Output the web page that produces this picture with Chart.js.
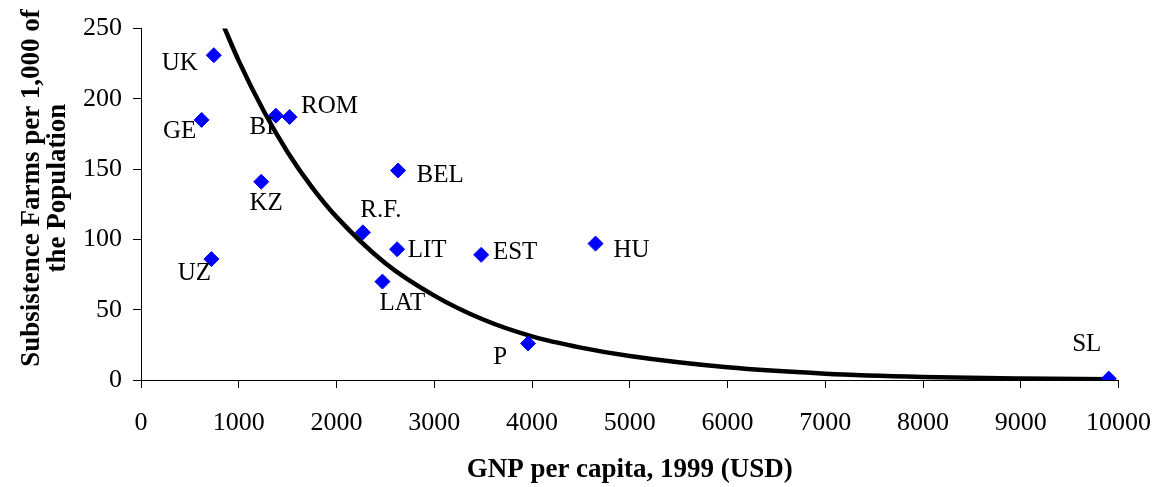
<!DOCTYPE html>
<html>
<head>
<meta charset="utf-8">
<script src="https://cdn.jsdelivr.net/npm/chart.js@4/dist/chart.umd.min.js"></script>
<style>
  body { margin: 0; background: #fff; }
</style>
</head>
<body>
<canvas id="chart" width="1171" height="487"></canvas>
<script>
// Countries and their values
const countries = ["UK", "GE", "BI", "ROM", "KZ", "BEL", "R.F.", "LIT", "EST", "HU", "UZ", "LAT", "P", "SL"];
const gnp = [745, 620, 1380, 1520, 1230, 2630, 2270, 2620, 3480, 4650, 720, 2470, 3960, 9900];
const farms = [231, 185, 188, 187, 141, 149, 105, 93, 89, 97, 86, 70, 26, 1];

// Trend curve
const trendX = [700, 850, 1000, 1250, 1500, 1750, 2000, 2500, 3000, 3500, 4000, 4500, 5000, 6000, 7000, 8000, 9000, 9900];
const trendY = [275, 251, 227, 192, 162, 137, 116, 83, 60, 43, 31, 23, 17, 9, 4.5, 2.2, 1.1, 0.6];

const xTicks = [0, 1000, 2000, 3000, 4000, 5000, 6000, 7000, 8000, 9000, 10000];
const yTicks = [0, 50, 100, 150, 200, 250];

const yTitle = ["Subsistence Farms per 1,000 of", "the Population"];

// where each label sits relative to its point
const labelOffsets = [[-34, 8], [-22, 12], [-14, 12], [40, -11], [5, 22], [42, 5], [18, -22],
    [30, 1], [34, -2], [36, 7], [-17, 14], [20, 22], [-28, 14], [-22, -34]];

const serif = "'Liberation Serif', 'Times New Roman', serif";

//Draws the country names next to the points
const pointLabels = {
    id: "pointLabels",
    afterDatasetsDraw(chart) {
        const ctx = chart.ctx;
        const meta = chart.getDatasetMeta(1);
        ctx.save();
        ctx.font = "25px " + serif;
        ctx.fillStyle = "#000";
        ctx.textAlign = "center";
        ctx.textBaseline = "middle";
        meta.data.forEach((pt, i) => {
            ctx.fillText(countries[i], pt.x + labelOffsets[i][0], pt.y + labelOffsets[i][1]);
        });
        ctx.restore();
    }
};

//Draws the two line y axis title
const yAxisTitle = {
    id: "yAxisTitle",
    afterDraw(chart) {
        const ctx = chart.ctx;
        ctx.save();
        ctx.font = "bold 27px " + serif;
        ctx.fillStyle = "#000";
        ctx.textAlign = "center";
        ctx.textBaseline = "middle";
        ctx.translate(0, 188);
        ctx.rotate(-Math.PI / 2);
        ctx.fillText(yTitle[0], 0, 32);
        ctx.fillText(yTitle[1], 0, 58);
        ctx.restore();
    }
};

new Chart(document.getElementById("chart"), {
    type: "scatter",
    data: {
        datasets: [
            {
                type: "line",
                data: trendX.map((x, i) => ({ x: x, y: trendY[i] })),
                borderColor: "#000",
                borderWidth: 4.5,
                pointRadius: 0,
                fill: false,
                cubicInterpolationMode: "monotone",
                order: 2,
            },
            {
                data: gnp.map((x, i) => ({ x: x, y: farms[i] })),
                pointStyle: "rectRot",
                pointRadius: 7.5,
                backgroundColor: "#0000FF",
                borderColor: "#0000FF",
                borderWidth: 1,
                order: 1,
            },
        ],
    },
    options: {
        responsive: false,
        animation: false,
        layout: { padding: { top: 28.5, right: 37, left: 0, bottom: 0 } },
        plugins: {
            legend: { display: false },
            tooltip: { enabled: false },
        },
        scales: {
            x: {
                type: "linear",
                min: 0,
                max: 10000,
                afterBuildTicks: (scale) => { scale.ticks = xTicks.map(v => ({ value: v })); },
                afterFit: (scale) => { scale.height = 107; },
                grid: { drawOnChartArea: false, drawTicks: true, tickLength: 8, color: "#000" },
                border: { display: true, color: "#000", width: 1 },
                ticks: {
                    color: "#000",
                    font: { family: serif, size: 26 },
                    padding: 20,
                    maxRotation: 0,
                    callback: (v) => String(v),
                },
                title: {
                    display: true,
                    text: "GNP per capita, 1999 (USD)",
                    color: "#000",
                    font: { family: serif, size: 27, weight: "bold", lineHeight: 1 },
                    padding: { top: 0, bottom: 3 },
                },
            },
            y: {
                type: "linear",
                min: 0,
                max: 250,
                afterBuildTicks: (scale) => { scale.ticks = yTicks.map(v => ({ value: v })); },
                afterFit: (scale) => { scale.width = 141; },
                grid: { drawOnChartArea: false, drawTicks: true, tickLength: 8, color: "#000" },
                border: { display: true, color: "#000", width: 1 },
                ticks: {
                    color: "#000",
                    font: { family: serif, size: 26 },
                    padding: 11,
                    callback: (v) => String(v),
                },
            },
        },
    },
    plugins: [pointLabels, yAxisTitle],
});
</script>
</body>
</html>
